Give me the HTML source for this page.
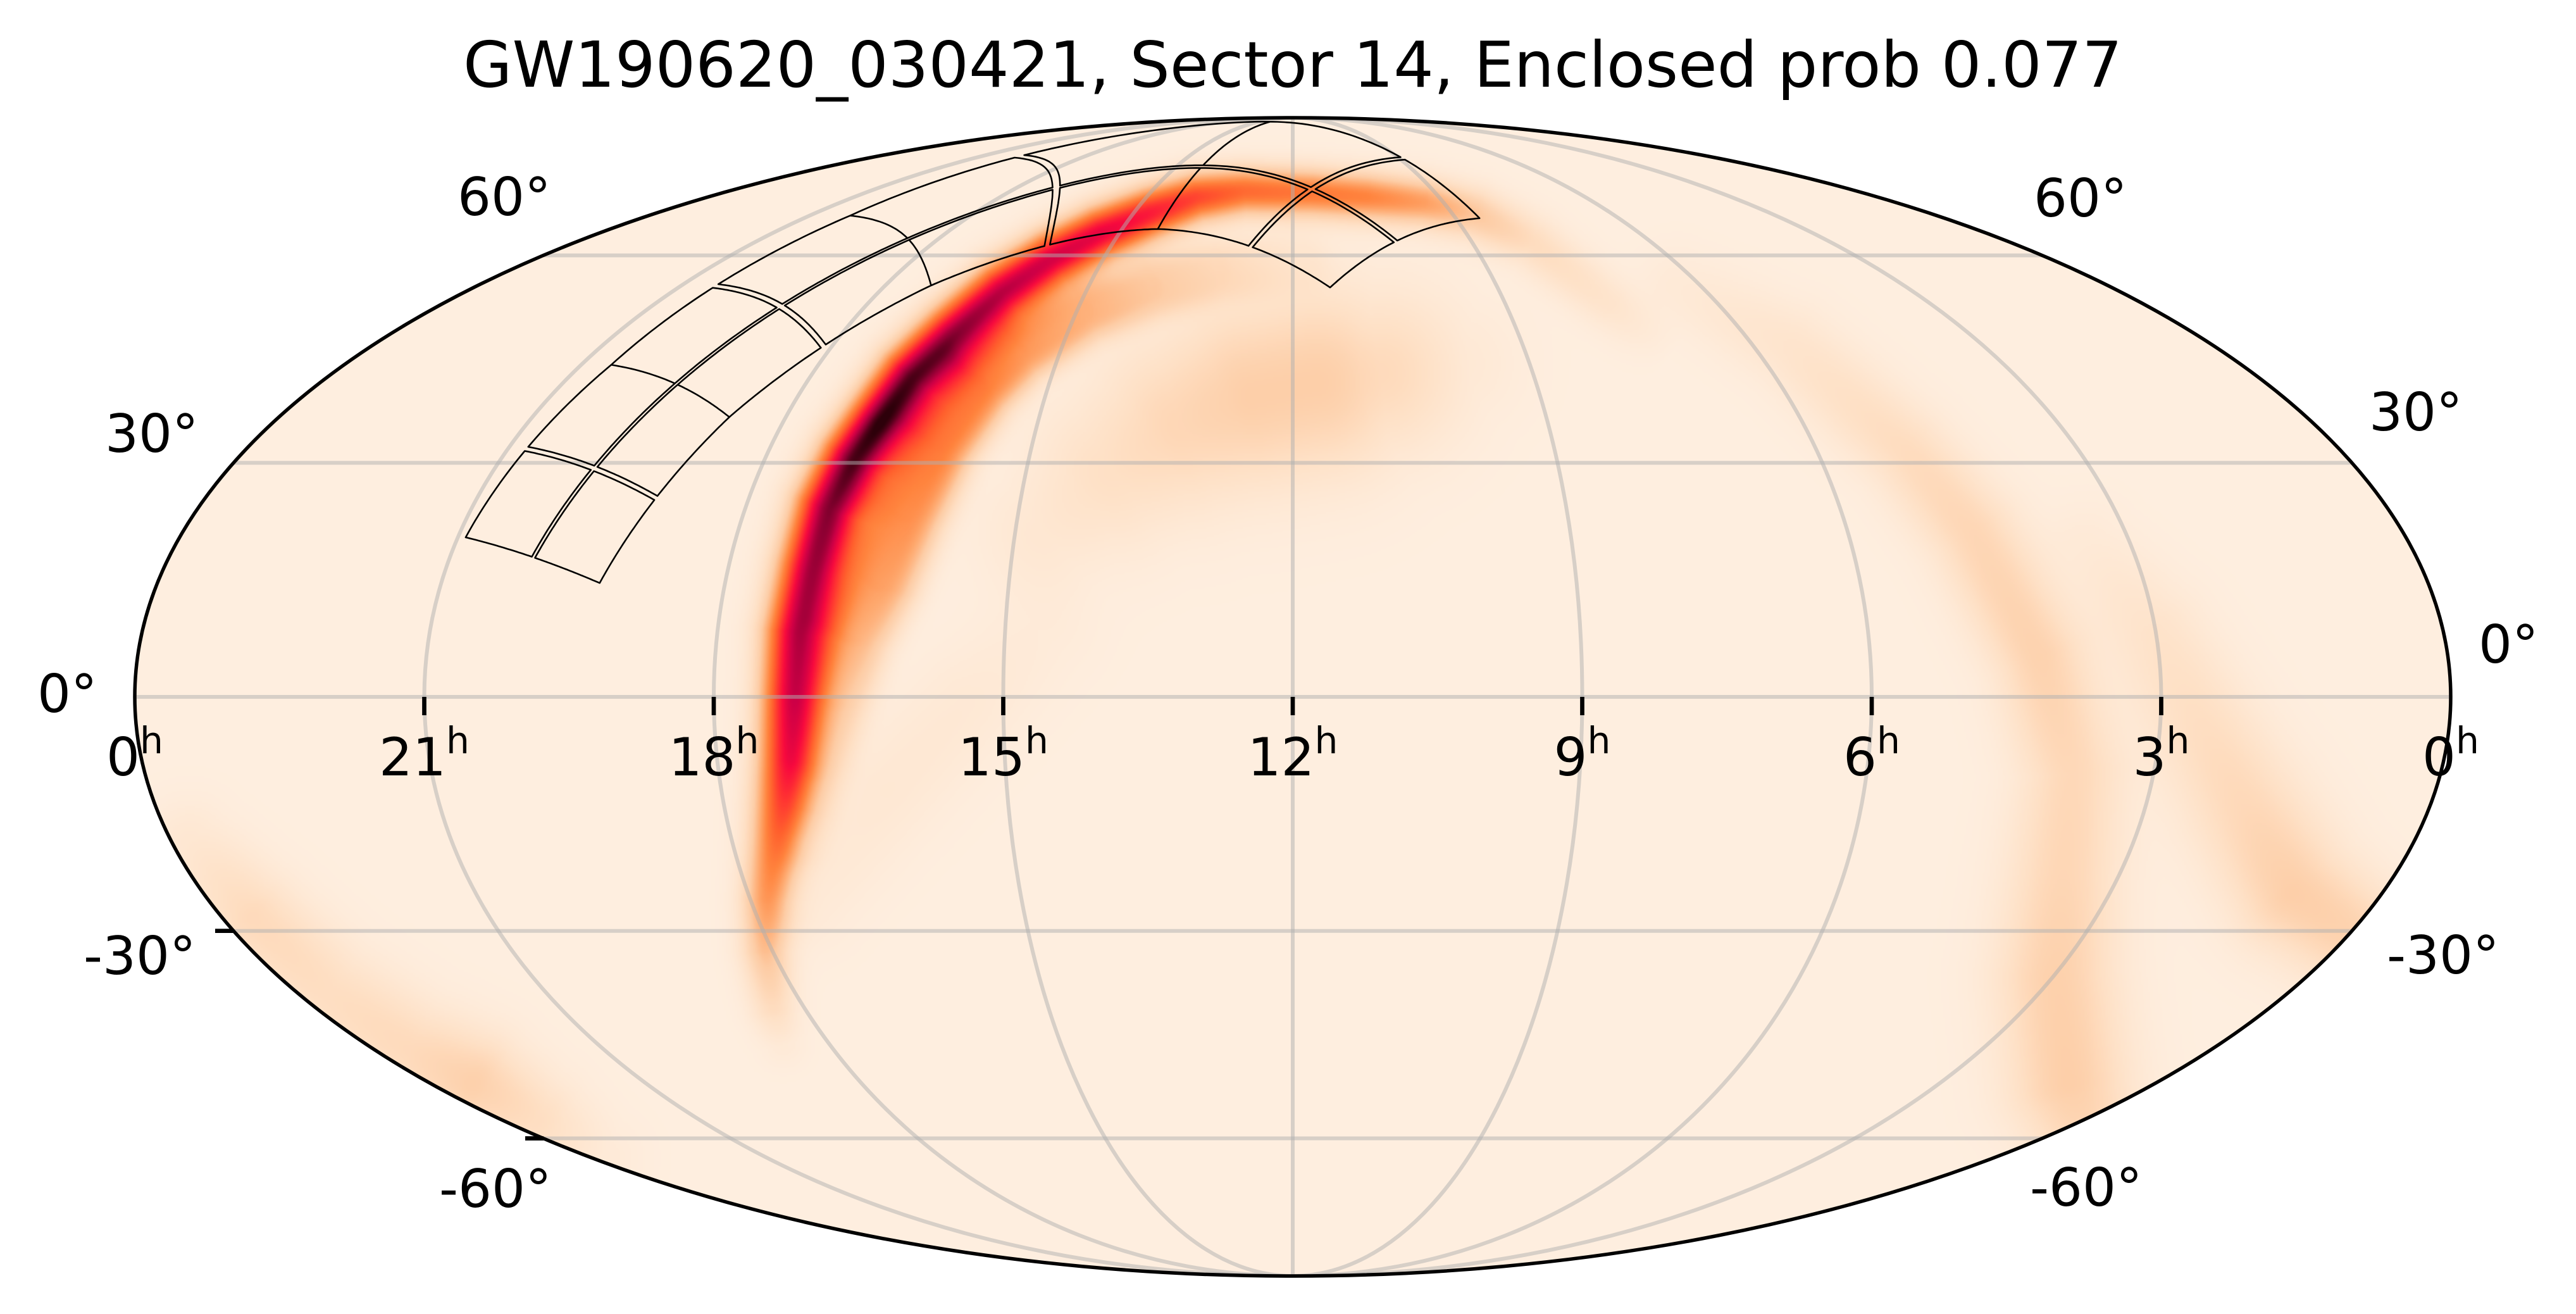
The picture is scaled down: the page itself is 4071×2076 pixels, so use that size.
<!DOCTYPE html>
<html><head><meta charset="utf-8">
<style>
html,body{margin:0;padding:0;background:#fff;}
body{width:4071px;height:2076px;position:relative;overflow:hidden;}
canvas,svg{position:absolute;left:0;top:0;}
text{font-family:"DejaVu Sans","Liberation Sans",sans-serif;fill:#000;}
</style></head><body>
<svg width="4071" height="2076" xmlns="http://www.w3.org/2000/svg"><ellipse cx="2043" cy="1101" rx="1830" ry="915" fill="#feeedf"/></svg>
<canvas id="c" width="4071" height="2076"></canvas>
<svg width="4071" height="2076" xmlns="http://www.w3.org/2000/svg">
<defs><clipPath id="clip"><ellipse cx="2043" cy="1101" rx="1830" ry="915"/></clipPath></defs>
<g clip-path="url(#clip)" stroke="#b0b0b0" stroke-opacity="0.5" stroke-width="6" fill="none">
<line x1="858.7" y1="403.5" x2="3227.3" y2="403.5"/>
<line x1="369" y1="731.3" x2="3717" y2="731.3"/>
<line x1="213" y1="1101" x2="3873" y2="1101"/>
<line x1="369" y1="1470.7" x2="3717" y2="1470.7"/>
<line x1="858.7" y1="1798.5" x2="3227.3" y2="1798.5"/>
<ellipse cx="2043" cy="1101" rx="457.5" ry="915"/>
<ellipse cx="2043" cy="1101" rx="915" ry="915"/>
<ellipse cx="2043" cy="1101" rx="1372.5" ry="915"/>
<line x1="2043" y1="186" x2="2043" y2="2016"/>
</g>
<path id="tiles" fill="none" stroke="#000" stroke-width="2.6" stroke-linejoin="round"/>
<ellipse cx="2043" cy="1101" rx="1830" ry="915" fill="none" stroke="#000" stroke-width="5.5"/>
<g stroke="#000" stroke-width="6.7">
<line x1="670.5" y1="1101" x2="670.5" y2="1130"/>
<line x1="1128" y1="1101" x2="1128" y2="1130"/>
<line x1="1585.5" y1="1101" x2="1585.5" y2="1130"/>
<line x1="2043" y1="1101" x2="2043" y2="1130"/>
<line x1="2500.5" y1="1101" x2="2500.5" y2="1130"/>
<line x1="2958" y1="1101" x2="2958" y2="1130"/>
<line x1="3415.5" y1="1101" x2="3415.5" y2="1130"/>
<line x1="340" y1="1470.7" x2="369" y2="1470.7"/>
<line x1="830" y1="1798.5" x2="859" y2="1798.5"/>
</g>
<g font-size="83.3">
<text x="723" y="340">60°</text>
<text x="166" y="714">30°</text>
<text x="59" y="1125">0°</text>
<text x="132" y="1539">-30°</text>
<text x="694" y="1907">-60°</text>
<text x="3214" y="342">60°</text>
<text x="3744" y="680">30°</text>
<text x="3917" y="1047">0°</text>
<text x="3772" y="1538">-30°</text>
<text x="3208" y="1905">-60°</text>
</g>
<g font-size="83.3" text-anchor="middle">
<text x="213" y="1225">0<tspan font-size="58.3" dy="-35">h</tspan></text>
<text x="670.5" y="1225">21<tspan font-size="58.3" dy="-35">h</tspan></text>
<text x="1128" y="1225">18<tspan font-size="58.3" dy="-35">h</tspan></text>
<text x="1585.5" y="1225">15<tspan font-size="58.3" dy="-35">h</tspan></text>
<text x="2043" y="1225">12<tspan font-size="58.3" dy="-35">h</tspan></text>
<text x="2500.5" y="1225">9<tspan font-size="58.3" dy="-35">h</tspan></text>
<text x="2958" y="1225">6<tspan font-size="58.3" dy="-35">h</tspan></text>
<text x="3415.5" y="1225">3<tspan font-size="58.3" dy="-35">h</tspan></text>
<text x="3873" y="1225">0<tspan font-size="58.3" dy="-35">h</tspan></text>
</g>
<text x="2043" y="137" font-size="100" text-anchor="middle">GW190620_030421, Sector 14, Enclosed prob 0.077</text>
</svg>
<script>
(function(){
const W=4071,H=2076,CX=2043,CY=1101,A=1830,B=915,D=Math.PI/180;
function theta(phi){
  if(Math.abs(phi)>=Math.PI/2-1e-9) return Math.sign(phi)*Math.PI/2;
  const k=Math.PI*Math.sin(phi); let t=phi;
  for(let i=0;i<200;i++){const f=2*t+Math.sin(2*t)-k,d=2+2*Math.cos(2*t); if(d<1e-12)break; const dt=f/d; t-=dt; if(Math.abs(dt)<1e-12)break;}
  return t;
}
function proj(ra,dec){
  let lon=ra-180; while(lon>180)lon-=360; while(lon<-180)lon+=360;
  const th=theta(dec*D);
  return [CX-A*(lon/180)*Math.cos(th), CY-B*Math.sin(th)];
}
/* ---------- TESS footprint ---------- */
try{
const v3=(ra,dec)=>{ra*=D;dec*=D;return [Math.cos(dec)*Math.cos(ra),Math.cos(dec)*Math.sin(ra),Math.sin(dec)];};
const add=(a,b)=>[a[0]+b[0],a[1]+b[1],a[2]+b[2]], mul=(a,s)=>[a[0]*s,a[1]*s,a[2]*s], dot=(a,b)=>a[0]*b[0]+a[1]*b[1]+a[2]*b[2];
const cross=(a,b)=>[a[1]*b[2]-a[2]*b[1],a[2]*b[0]-a[0]*b[2],a[0]*b[1]-a[1]*b[0]];
const nrm=a=>mul(a,1/Math.hypot(a[0],a[1],a[2]));
const Bv=v3(277.6,62.7),C1=v3(297.7,28.9),C4=v3(174.95,71.2);
let dv=add(C4,mul(C1,-1)); dv=add(dv,mul(Bv,-dot(dv,Bv))); const T=nrm(dv); const N=nrm(cross(Bv,T));
function toPix(v){v=nrm(v);const dec=Math.asin(v[2])/D;let ra=Math.atan2(v[1],v[0])/D;if(ra<0)ra+=360;return proj(ra,dec);}
const w=Math.tan(12*D),g=0.005;let d='';
for(const s of [-36,-12,12,36]){
  const sr=s*D;const c=add(mul(Bv,Math.cos(sr)),mul(T,Math.sin(sr)));const u=add(mul(Bv,-Math.sin(sr)),mul(T,Math.cos(sr)));
  for(const sp of [-1,1])for(const sq of [-1,1]){
    const p0=sp*g,p1=sp*w,q0=sq*g,q1=sq*w;const cs=[[p0,q0],[p1,q0],[p1,q1],[p0,q1],[p0,q0]];const pts=[];
    for(let e=0;e<4;e++){const a0=cs[e][0],b0=cs[e][1],a1=cs[e+1][0],b1=cs[e+1][1];
      for(let k=0;k<30;k++){const f=k/30;const p=a0+(a1-a0)*f,q=b0+(b1-b0)*f;pts.push(toPix(add(c,add(mul(u,p),mul(N,q)))));}}
    d+='M'+pts.map(p=>p[0].toFixed(1)+','+p[1].toFixed(1)).join('L')+'Z';
  }
}
document.getElementById('tiles').setAttribute('d',d);
}catch(e){}
/* ---------- heat map ---------- */
const feats=[
 {pw:2,p:[[1238,1650,0.03,24],[1222,1590,0.12,25],[1210,1500,0.24,26],[1213,1420,0.34,27],[1225,1340,0.43,29],[1236,1270,0.54,31],[1245,1200,0.66,32],[1252,1100,0.76,33],[1262,1000,0.83,35],[1285,900,0.87,36],[1311,805,0.91,36],[1350,727,0.97,35],[1389,670,1.0,34],[1441,597,0.96,34],[1506,532,0.9,33],[1584,462,0.83,32],[1661,410,0.78,30],[1739,369,0.74,29],[1817,337,0.66,28],[1890,312,0.56,27],[1966,302,0.47,26],[2072,305,0.43,26],[2160,311,0.4,26],[2250,320,0.33,26],[2330,338,0.22,27],[2420,382,0.12,28],[2543,480,0.07,28],[2640,560,0.0,28]]},
 {pw:3,p:[[1265,1330,0.04,35],[1290,1210,0.12,40],[1318,1100,0.19,45],[1348,1000,0.26,48],[1388,915,0.32,50],[1428,810,0.37,50],[1480,700,0.42,48],[1545,610,0.41,46],[1610,555,0.34,42],[1713,493,0.27,40],[1817,454,0.2,40],[1921,428,0.12,40],[2051,415,0.04,40]]},
 {pw:2,p:[[1650,840,0.05,70],[1760,745,0.1,85],[1870,670,0.15,95],[1980,625,0.19,100],[2080,605,0.19,100],[2180,590,0.13,90],[2300,575,0.04,70]]},
 {pw:2,p:[[2650,450,0.03,40],[2831,549,0.07,45],[3012,712,0.12,45],[3118,842,0.15,48],[3223,1038,0.17,50],[3275,1222,0.14,55],[3261,1385,0.15,60],[3250,1547,0.18,65],[3270,1710,0.19,65],[3330,1880,0.1,60],[3380,1980,0.03,50]]},
 {pw:2,p:[[3300,860,0.03,45],[3405,1005,0.08,55],[3480,1150,0.11,60],[3548,1276,0.14,65],[3625,1410,0.19,65],[3720,1480,0.17,60],[3820,1530,0.08,55]]},
 {pw:2,p:[[300,1330,0.05,45],[400,1450,0.13,50],[520,1570,0.11,55],[650,1660,0.13,55],[747,1711,0.18,55],[846,1770,0.11,50],[950,1830,0.03,45]]},
 {pw:2,p:[[1280,1430,0.03,50],[1400,1250,0.045,60],[1530,1110,0.04,60],[1650,1000,0.02,60]]}
];
for(const f of feats){let x0=1e9,y0=1e9,x1=-1e9,y1=-1e9;for(const q of f.p){const m=q[3]*3.8;x0=Math.min(x0,q[0]-m);y0=Math.min(y0,q[1]-m);x1=Math.max(x1,q[0]+m);y1=Math.max(y1,q[1]+m);}f.bb=[x0,y0,x1,y1];}
const stops=[[0,254,238,223],[0.1,254,224,197],[0.2,253,205,166],[0.3,254,170,112],[0.4,255,132,62],[0.5,255,96,45],[0.6,255,52,50],[0.7,248,10,62],[0.8,205,0,70],[0.9,140,0,50],[1,45,0,10]];
const LUT=[];for(let i=0;i<=1000;i++){const t=i/1000;let k=0;while(k<stops.length-2&&t>stops[k+1][0])k++;const a=stops[k],b=stops[k+1];const f=(t-a[0])/(b[0]-a[0]);LUT.push([a[1]+(b[1]-a[1])*f,a[2]+(b[2]-a[2])*f,a[3]+(b[3]-a[3])*f]);}
const S=3,w=Math.ceil(W/S),h=Math.ceil(H/S);
const off=document.createElement('canvas');off.width=w;off.height=h;
const octx=off.getContext('2d');const img=octx.createImageData(w,h);const dat=img.data;
for(let j=0;j<h;j++){const y=j*S+1.5;for(let i=0;i<w;i++){const x=i*S+1.5;
  const ex=(x-CX)/(A+8),ey=(y-CY)/(B+8);if(ex*ex+ey*ey>1)continue;
  let tot=0;
  for(const f of feats){const bb=f.bb;if(x<bb[0]||x>bb[2]||y<bb[1]||y>bb[3])continue;let best=0;const P=f.p;
    for(let k=0;k<P.length-1;k++){const a=P[k],b=P[k+1];const dx=b[0]-a[0],dy=b[1]-a[1];const L2=dx*dx+dy*dy;
      let u=((x-a[0])*dx+(y-a[1])*dy)/L2;if(u<0)u=0;else if(u>1)u=1;
      const px=a[0]+u*dx-x,py=a[1]+u*dy-y;const d2=px*px+py*py;const sg=a[3]+u*(b[3]-a[3]);const t=a[2]+u*(b[2]-a[2]);
      let v;if(f.pw===2)v=t*Math.exp(-d2/(2*sg*sg));else{const r=Math.sqrt(d2)/sg;v=t*Math.exp(-0.5*r*r*r);}
      if(v>best)best=v;}
    tot+=best;}
  if(tot>1)tot=1;const c=LUT[Math.round(tot*1000)];const o=(j*w+i)*4;dat[o]=c[0];dat[o+1]=c[1];dat[o+2]=c[2];dat[o+3]=255;
}}
octx.putImageData(img,0,0);
const ctx=document.getElementById('c').getContext('2d');
ctx.save();ctx.beginPath();ctx.ellipse(CX,CY,A,B,0,0,2*Math.PI);ctx.clip();
ctx.imageSmoothingEnabled=true;ctx.drawImage(off,0,0,w*S,h*S);ctx.restore();
})();
</script>
</body></html>
